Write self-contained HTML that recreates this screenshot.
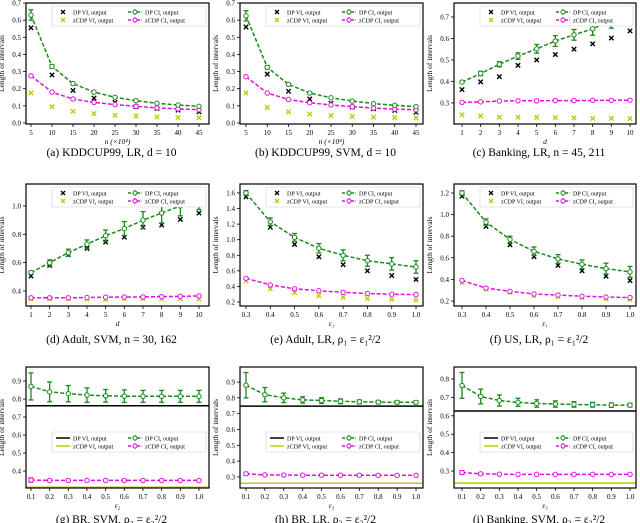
<!DOCTYPE html>
<html><head><meta charset="utf-8">
<style>
body{margin:0;background:#fff;}
svg{display:block;font-family:"Liberation Serif",serif;}
</style></head>
<body>
<svg id="fig" width="640" height="523" viewBox="0 0 640 523" xmlns="http://www.w3.org/2000/svg"></svg>
<script>
// ---- data arrays ----
const xN = [5,10,15,20,25,30,35,40,45];
const xD = [1,2,3,4,5,6,7,8,9,10];
const xE1 = [0.3,0.4,0.5,0.6,0.7,0.8,0.9,1.0];
const xE = [0.1,0.2,0.3,0.4,0.5,0.6,0.7,0.8,0.9,1.0];

const aDpCi = [0.63,0.33,0.23,0.18,0.15,0.13,0.115,0.105,0.097];
const aDpCiErr = [0.03,0.01,0.006,0.004,0.003,0.003,0.002,0.002,0.002];
const aDpVi = [0.555,0.28,0.19,0.145,0.12,0.095,0.085,0.075,0.065];
const aZCi = [0.275,0.18,0.14,0.12,0.107,0.097,0.088,0.082,0.078];
const aZVi = [0.175,0.095,0.068,0.055,0.045,0.04,0.035,0.032,0.03];

const bDpCi = [0.625,0.325,0.225,0.175,0.147,0.128,0.113,0.103,0.095];
const bDpCiErr = [0.03,0.01,0.006,0.004,0.003,0.003,0.002,0.002,0.002];
const bDpVi = [0.56,0.285,0.185,0.14,0.115,0.093,0.083,0.073,0.063];
const bZCi = [0.27,0.175,0.137,0.118,0.105,0.095,0.087,0.081,0.077];
const bZVi = [0.175,0.09,0.065,0.052,0.043,0.038,0.034,0.031,0.029];

const cDpCi = [0.397,0.437,0.48,0.518,0.552,0.588,0.617,0.645,0.683,0.71];
const cDpCiErr = [0.005,0.01,0.012,0.015,0.02,0.025,0.025,0.03,0.035,0.035];
const cDpVi = [0.362,0.398,0.422,0.475,0.5,0.525,0.55,0.575,0.602,0.635];
const cZCi = [0.303,0.305,0.309,0.31,0.31,0.311,0.311,0.312,0.312,0.313];
const cZVi = [0.245,0.24,0.233,0.233,0.233,0.232,0.23,0.228,0.228,0.227];

const dDpCi = [0.53,0.6,0.67,0.73,0.79,0.84,0.9,0.95,1.0,1.045];
const dDpCiErr = [0.01,0.02,0.025,0.03,0.04,0.05,0.06,0.07,0.07,0.07];
const dDpVi = [0.505,0.58,0.655,0.70,0.745,0.78,0.85,0.865,0.905,0.95];
const dZCi = [0.352,0.352,0.352,0.354,0.356,0.357,0.358,0.36,0.362,0.365];
const dZVi = [0.345,0.345,0.345,0.343,0.34,0.345,0.345,0.345,0.345,0.343];

const eDpCi = [1.6,1.23,1.03,0.89,0.8,0.73,0.69,0.65];
const eDpCiErr = [0.03,0.05,0.05,0.06,0.07,0.07,0.08,0.08];
const eDpVi = [1.55,1.16,0.94,0.78,0.68,0.6,0.54,0.49];
const eZCi = [0.505,0.42,0.37,0.345,0.325,0.31,0.3,0.295];
const eZVi = [0.47,0.37,0.32,0.28,0.26,0.245,0.235,0.225];

const fDpCi = [1.2,0.93,0.77,0.66,0.59,0.54,0.5,0.47];
const fDpCiErr = [0.02,0.03,0.03,0.04,0.04,0.04,0.05,0.05];
const fDpVi = [1.17,0.89,0.72,0.61,0.53,0.48,0.43,0.39];
const fZCi = [0.39,0.32,0.29,0.265,0.255,0.245,0.237,0.232];
const fZVi = [0.37,0.31,0.28,0.25,0.24,0.23,0.22,0.215];

const gDpCi = [0.87,0.84,0.83,0.822,0.818,0.816,0.815,0.815,0.815,0.815];
const gDpCiErr = [0.075,0.055,0.045,0.04,0.035,0.035,0.033,0.033,0.033,0.033];
const gZCi = [0.35,0.348,0.348,0.348,0.348,0.348,0.348,0.348,0.348,0.348];
const gZCiErr = [0.012,0.004,0.003,0.003,0.003,0.003,0.003,0.003,0.003,0.003];
const gDpVi = [0.763];
const gZVi = [0.31];

const hDpCi = [0.88,0.82,0.80,0.787,0.783,0.778,0.775,0.773,0.772,0.772];
const hDpCiErr = [0.08,0.045,0.03,0.02,0.018,0.015,0.012,0.01,0.01,0.01];
const hZCi = [0.32,0.313,0.312,0.311,0.311,0.311,0.311,0.31,0.31,0.31];
const hZCiErr = [0.01,0.004,0.003,0.003,0.003,0.003,0.003,0.003,0.003,0.003];
const hDpVi = [0.748];
const hZVi = [0.26];

const iDpCi = [0.765,0.705,0.683,0.673,0.667,0.664,0.662,0.66,0.658,0.658];
const iDpCiErr = [0.07,0.04,0.03,0.022,0.02,0.017,0.015,0.013,0.012,0.01];
const iZCi = [0.292,0.285,0.283,0.282,0.282,0.282,0.282,0.282,0.282,0.282];
const iZCiErr = [0.01,0.004,0.003,0.003,0.003,0.003,0.003,0.003,0.003,0.003];
const iDpVi = [0.626];
const iZVi = [0.235];

const ticksA = [0,0.1,0.2,0.3,0.4,0.5,0.6,0.7];
const ticksC = [0.3,0.4,0.5,0.6,0.7];
const ticksD = [0.4,0.6,0.8,1.0];
const ticksE = [0.2,0.4,0.6,0.8,1.0,1.2,1.4,1.6];
const ticksF = [0.2,0.4,0.6,0.8,1.0,1.2];
const ticksG = [0.4,0.5,0.6,0.7,0.8,0.9];
const ticksH = [0.3,0.4,0.5,0.6,0.7,0.8,0.9];
const ticksI = [0.3,0.4,0.5,0.6,0.7,0.8];

const GREEN="#1a8a1a", MAG="#e010e0", YEL="#c8c800";
const svg=document.getElementById('fig');
const NS="http://www.w3.org/2000/svg";
function el(tag,attrs,parent){const e=document.createElementNS(NS,tag);for(const k in attrs)e.setAttribute(k,attrs[k]);(parent||svg).appendChild(e);return e;}
function txt(s,x,y,size,anchor,parent){const t=el('text',{x:x,y:y,'font-size':size,'text-anchor':anchor||'middle',fill:'#000'},parent);t.textContent=s;return t;}
function fmt(v){return v.toFixed(1);}

function panel(p){
  const g=el('g',{});
  
  
  const sx=v=>p.x0+(v-p.xs[0])/(p.xs[p.xs.length-1]-p.xs[0])*(p.x1-p.x0);
  const sy=v=>p.B-(v-p.ymin)/(p.ymax-p.ymin)*(p.B-p.T);
  p.yt.forEach(v=>{const y=sy(v);el('line',{x1:p.L-3,x2:p.L,y1:y,y2:y,stroke:'#000','stroke-width':0.8},g);
    const t=txt(fmt(v),p.L-5,y+2.5,7,'end',g);});
  p.xs.forEach(v=>{const x=sx(v);el('line',{x1:x,x2:x,y1:p.B,y2:p.B+3,stroke:'#000','stroke-width':0.8},g);
    const t=txt(p.xfmt?p.xfmt(v):String(v),x,p.B+11,7,'middle',g);});
  const yl=txt('Length of intervals',0,0,7.5,'middle',g);
  yl.setAttribute('transform',`translate(${p.L-22},${(p.T+p.B)/2}) rotate(-90)`);
  
  const xl=txt(p.xlabel,(p.L+p.R)/2,p.B+20,7.5,'middle',g);xl.setAttribute('font-style','italic');
  
  const cap=txt(p.caption,(p.L+p.R)/2-6,p.capY,11.5,'middle',g);
  
  if(p.hline){
    const l1=el('line',{x1:p.L,x2:p.R,y1:sy(p.dpVi[0]),y2:sy(p.dpVi[0]),stroke:'#000','stroke-width':1.5},g);
    
    const l2=el('line',{x1:p.L,x2:p.R,y1:sy(p.zVi[0]),y2:sy(p.zVi[0]),stroke:YEL,'stroke-width':1.5},g);
    
  }
  function series(vals,err,color,nm){
    const pts=vals.map((v,i)=>sx(p.xs[i]).toFixed(1)+','+sy(v).toFixed(1)).join(' ');
    const pl=el('polyline',{points:pts,fill:'none',stroke:color,'stroke-width':1.5,'stroke-dasharray':'4,2'},g);
    
    vals.forEach((v,i)=>{const x=sx(p.xs[i]),y=sy(v);
      if(err){const e=err[i];const y1=sy(v+e),y2=sy(v-e);
        el('line',{x1:x,x2:x,y1:y1,y2:y2,stroke:color,'stroke-width':1.3},g);
        el('line',{x1:x-2.5,x2:x+2.5,y1:y1,y2:y1,stroke:color,'stroke-width':1.3},g);
        el('line',{x1:x-2.5,x2:x+2.5,y1:y2,y2:y2,stroke:color,'stroke-width':1.3},g);}
      const c=el('circle',{cx:x,cy:y,r:2.2,fill:'#fff',stroke:color,'stroke-width':1},g);
      });
  }
  function xs(vals,color,nm){
    vals.forEach((v,i)=>{const x=sx(p.xs[i]),y=sy(v);
      const m=el('path',{d:`M${x-2.2},${y-2.2}L${x+2.2},${y+2.2}M${x-2.2},${y+2.2}L${x+2.2},${y-2.2}`,stroke:color,'stroke-width':1.4},g);
      });
  }
  if(!p.hline){xs(p.zVi,YEL,'zcdp-vi');xs(p.dpVi,'#000','dp-vi');}
  series(p.zCi,p.zErr,MAG,'zcdp-ci');
  series(p.dpCi,p.dpErr,GREEN,'dp-ci');
  const lx=p.L+26, ly=p.legY, lg=el('g',{},g);
  
  el('rect',{x:lx,y:ly,width:p.R-lx-3,height:20,fill:'#fff',stroke:'#ccc','stroke-width':0.6,rx:1.5},lg);
  const items=[['DP VI, output','#000',0,0,false],['zCDP VI, output',YEL,0,1,false],['DP CI, output',GREEN,1,0,true],['zCDP CI, output',MAG,1,1,true]];
  items.forEach(it=>{const bx=lx+4+it[2]*72, by=ly+6+it[3]*8;
    const e=el('g',{},lg);
    if(it[4]){el('line',{x1:bx,x2:bx+14,y1:by,y2:by,stroke:it[1],'stroke-width':1.4,'stroke-dasharray':'3,1.5'},e);
      el('line',{x1:bx+7,x2:bx+7,y1:by-3,y2:by+3,stroke:it[1],'stroke-width':1},e);
      el('circle',{cx:bx+7,cy:by,r:2,fill:'#fff',stroke:it[1],'stroke-width':1},e);}
    else if(p.hline){el('line',{x1:bx,x2:bx+14,y1:by,y2:by,stroke:it[1],'stroke-width':1.5},e);}
    else{el('path',{d:`M${bx+5},${by-2}L${bx+9},${by+2}M${bx+5},${by+2}L${bx+9},${by-2}`,stroke:it[1],'stroke-width':1.3},e);}
    txt(it[0],bx+17,by+2.3,6,'start',e);});
  el('rect',{x:p.L,y:p.T,width:p.R-p.L,height:p.B-p.T,fill:'none',stroke:'#000','stroke-width':1.2},g);
}

const row1={T:3,B:124,capY:156};
const row2={T:184,B:306,capY:343};
const row3={T:367,B:488,capY:523};
const colA={L:26,R:209,x0:31,x1:199};
const colB={L:240,R:423,x0:246,x1:416};
const colC={L:454,R:636,x0:462,x1:630};

panel(Object.assign({name:'panel-a',xs:xN,xlabel:'n   (×10⁴)',caption:'(a) KDDCUP99, LR, d = 10',ymin:-0.006,ymax:0.70,yt:ticksA,legY:6,
  dpCi:aDpCi,dpErr:aDpCiErr,dpVi:aDpVi,zCi:aZCi,zErr:null,zVi:aZVi},row1,colA));
panel(Object.assign({name:'panel-b',xs:xN,xlabel:'n   (×10⁴)',caption:'(b) KDDCUP99, SVM, d = 10',ymin:-0.006,ymax:0.70,yt:ticksA,legY:6,
  dpCi:bDpCi,dpErr:bDpCiErr,dpVi:bDpVi,zCi:bZCi,zErr:null,zVi:bZVi},row1,colB));
panel(Object.assign({name:'panel-c',xs:xD,xlabel:'d',caption:'(c) Banking, LR, n = 45, 211',ymin:0.202,ymax:0.765,yt:ticksC,legY:6,
  dpCi:cDpCi,dpErr:cDpCiErr,dpVi:cDpVi,zCi:cZCi,zErr:null,zVi:cZVi},row1,colC));
panel(Object.assign({name:'panel-d',xs:xD,xlabel:'d',caption:'(d) Adult, SVM, n = 30, 162',ymin:0.294,ymax:1.155,yt:ticksD,legY:187,
  dpCi:dDpCi,dpErr:dDpCiErr,dpVi:dDpVi,zCi:dZCi,zErr:null,zVi:dZVi},row2,colA));
panel(Object.assign({name:'panel-e',xs:xE1,xfmt:v=>v.toFixed(1),xlabel:'ε₁',caption:'(e) Adult, LR, ρ₁ = ε₁²/2',ymin:0.149,ymax:1.715,yt:ticksE,legY:187,
  dpCi:eDpCi,dpErr:eDpCiErr,dpVi:eDpVi,zCi:eZCi,zErr:null,zVi:eZVi},row2,colB));
panel(Object.assign({name:'panel-f',xs:xE1,xfmt:v=>v.toFixed(1),xlabel:'ε₁',caption:'(f) US, LR, ρ₁ = ε₁²/2',ymin:0.154,ymax:1.283,yt:ticksF,legY:187,
  dpCi:fDpCi,dpErr:fDpCiErr,dpVi:fDpVi,zCi:fZCi,zErr:null,zVi:fZVi},row2,colC));
panel(Object.assign({name:'panel-g',xs:xE,xfmt:v=>v.toFixed(1),xlabel:'ε₂',caption:'(g) BR, SVM, ρ₂ = ε₂²/2',ymin:0.306,ymax:0.978,yt:ticksG,legY:432,hline:true,
  dpCi:gDpCi,dpErr:gDpCiErr,dpVi:gDpVi,zCi:gZCi,zErr:gZCiErr,zVi:gZVi},row3,colA));
panel(Object.assign({name:'panel-h',xs:xE,xfmt:v=>v.toFixed(1),xlabel:'ε₃',caption:'(h) BR, LR, ρ₃ = ε₃²/2',ymin:0.23,ymax:0.995,yt:ticksH,legY:432,hline:true,
  dpCi:hDpCi,dpErr:hDpCiErr,dpVi:hDpVi,zCi:hZCi,zErr:hZCiErr,zVi:hZVi},row3,colB));
panel(Object.assign({name:'panel-i',xs:xE,xfmt:v=>v.toFixed(1),xlabel:'ε₃',caption:'(i) Banking, SVM, ρ₃ = ε₃²/2',ymin:0.208,ymax:0.865,yt:ticksI,legY:432,hline:true,
  dpCi:iDpCi,dpErr:iDpCiErr,dpVi:iDpVi,zCi:iZCi,zErr:iZCiErr,zVi:iZVi},row3,colC));
</script>
</body></html>
